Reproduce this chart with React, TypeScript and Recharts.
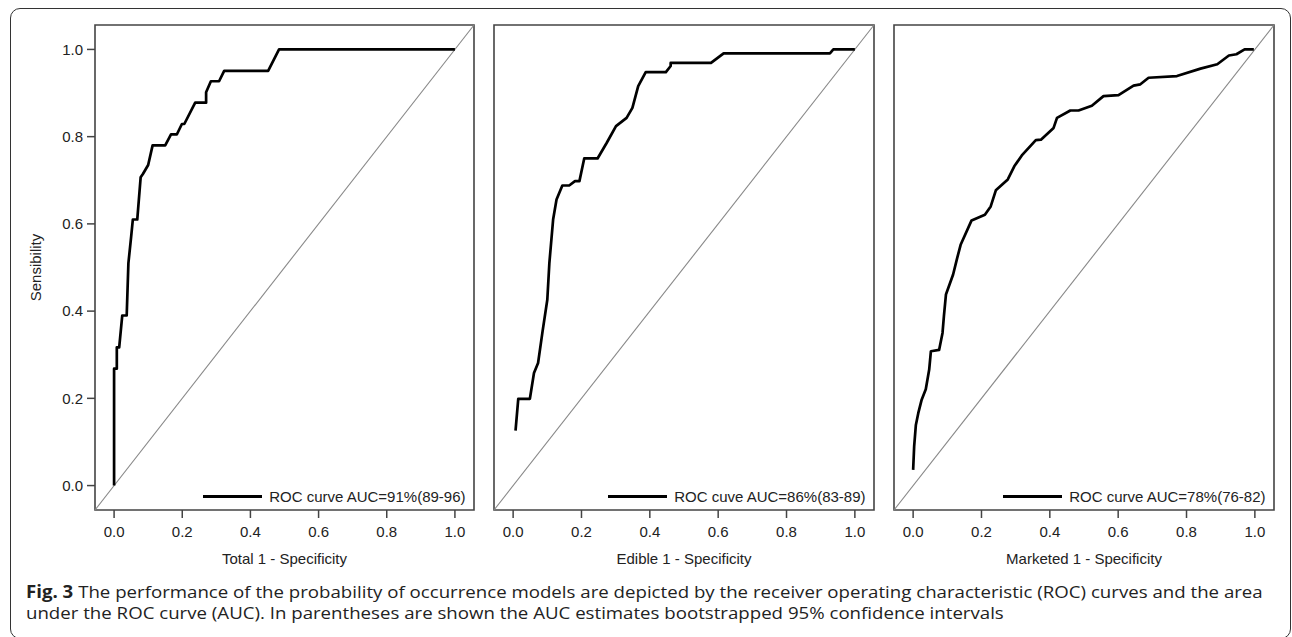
import React from "react";
import { LineChart, Line, XAxis, YAxis, ReferenceLine, ReferenceArea, Legend, Label } from "recharts";

// ---- data ----
const xTicks = [0, 0.2, 0.4, 0.6, 0.8, 1.0];
const yTicks = [0, 0.2, 0.4, 0.6, 0.8, 1.0];

const totalFpr = [0, 0, 0.008, 0.008, 0.015, 0.024, 0.037, 0.042, 0.05, 0.055, 0.068, 0.078, 0.085, 0.1, 0.113, 0.15, 0.167, 0.184, 0.199, 0.206, 0.238, 0.27, 0.27, 0.284, 0.308, 0.323, 0.452, 0.484, 1.0];
const totalTpr = [0, 0.268, 0.268, 0.317, 0.317, 0.39, 0.39, 0.51, 0.57, 0.61, 0.61, 0.707, 0.715, 0.735, 0.78, 0.78, 0.805, 0.805, 0.829, 0.829, 0.878, 0.878, 0.902, 0.927, 0.927, 0.951, 0.951, 1.0, 1.0];

const edibleFpr = [0.007, 0.015, 0.049, 0.061, 0.073, 0.086, 0.1, 0.106, 0.117, 0.127, 0.144, 0.164, 0.181, 0.194, 0.208, 0.247, 0.274, 0.301, 0.332, 0.349, 0.366, 0.388, 0.447, 0.461, 0.461, 0.579, 0.616, 0.927, 0.937, 1.0];
const edibleTpr = [0.126, 0.199, 0.199, 0.258, 0.281, 0.353, 0.426, 0.51, 0.61, 0.656, 0.688, 0.688, 0.698, 0.698, 0.75, 0.75, 0.786, 0.824, 0.843, 0.866, 0.916, 0.948, 0.948, 0.962, 0.969, 0.969, 0.991, 0.991, 1.0, 1.0];

const marketedFpr = [0, 0.003, 0.008, 0.015, 0.025, 0.037, 0.047, 0.052, 0.076, 0.086, 0.09, 0.096, 0.117, 0.129, 0.139, 0.171, 0.21, 0.227, 0.242, 0.277, 0.296, 0.318, 0.359, 0.374, 0.411, 0.421, 0.46, 0.484, 0.523, 0.557, 0.601, 0.645, 0.665, 0.689, 0.772, 0.841, 0.89, 0.924, 0.946, 0.97, 0.997];
const marketedTpr = [0.036, 0.09, 0.139, 0.166, 0.197, 0.221, 0.266, 0.308, 0.311, 0.35, 0.388, 0.438, 0.484, 0.522, 0.552, 0.608, 0.621, 0.64, 0.677, 0.702, 0.732, 0.757, 0.792, 0.793, 0.82, 0.843, 0.86, 0.86, 0.871, 0.893, 0.895, 0.917, 0.92, 0.935, 0.939, 0.956, 0.966, 0.986, 0.989, 1.0, 1.0];

const panelTitles = ["Total 1 - Specificity", "Edible 1 - Specificity", "Marketed 1 - Specificity"];
const legendLabels = ["ROC curve AUC=91%(89-96)", "ROC cuve AUC=86%(83-89)", "ROC curve AUC=78%(76-82)"];
const yTitle = "Sensibility";
const captionBold = "Fig. 3";
const captionLine1 = " The performance of the probability of occurrence models are depicted by the receiver operating characteristic (ROC) curves and the area";
const captionLine2 = "under the ROC curve (AUC). In parentheses are shown the AUC estimates bootstrapped 95% confidence intervals";

const DOMAIN: [number, number] = [-0.056, 1.056];

const toPoints = (xs: number[], ys: number[]) => xs.map((x, i) => ({ x, y: ys[i] }));

const FONT = "'Liberation Sans', Arial, Helvetica, sans-serif";
const TEXT = "#222";
const FRAME = "#444";

type PanelProps = {
  data: { x: number; y: number }[];
  title: string;
  legend: string;
  showY: boolean;
  left: number;
  width: number;
  margin: { top: number; right: number; bottom: number; left: number };
};

const LegendContent = (props: any) => {
  const label = props.payload && props.payload[0] ? props.payload[0].value : "";
  return (
    <div style={{ display: "flex", alignItems: "center", fontFamily: FONT, fontSize: 15, color: TEXT, whiteSpace: "nowrap" }}>
      <div style={{ width: 59, height: 3, background: "#000", marginRight: 7 }} />
      <span>{label}</span>
    </div>
  );
};

const Panel = ({ data, title, legend, showY, left, width, margin }: PanelProps) => {
  const height = 580;
  return (
    <div style={{ position: "absolute", left, top: 0 }}>
      <LineChart width={width} height={height} data={data} margin={margin} style={{ fontFamily: FONT }}>
        <XAxis
          type="number"
          dataKey="x"
          domain={DOMAIN}
          ticks={xTicks}
          allowDataOverflow
          tickFormatter={(v: number) => v.toFixed(1)}
          height={30}
          tickSize={8}
          tickMargin={8}
          axisLine={false}
          tickLine={{ stroke: FRAME, strokeWidth: 1.5 }}
          tick={{ fill: TEXT, fontSize: 15 }}
        >
          <Label
            content={(p: any) => {
              const vb = p.viewBox || {};
              return (
                <text x={vb.x + vb.width / 2} y={vb.y + 53.5} textAnchor="middle" fill={TEXT} fontSize={15} fontFamily={FONT}>
                  {title}
                </text>
              );
            }}
          />
        </XAxis>
        <YAxis
          type="number"
          dataKey="y"
          domain={DOMAIN}
          ticks={yTicks}
          allowDataOverflow
          hide={!showY}
          width={60}
          tickFormatter={(v: number) => v.toFixed(1)}
          tickSize={8}
          tickMargin={4}
          axisLine={false}
          tickLine={{ stroke: FRAME, strokeWidth: 1.5 }}
          tick={{ fill: TEXT, fontSize: 15 }}
        >
          {showY && (
            <Label
              content={(p: any) => {
                const vb = p.viewBox || {};
                const cx = vb.x;
                const cy = vb.y + vb.height / 2;
                return (
                  <text x={cx} y={cy} transform={`rotate(-90, ${cx}, ${cy})`} textAnchor="middle" dominantBaseline="central" fill={TEXT} fontSize={15} fontFamily={FONT}>
                    {yTitle}
                  </text>
                );
              }}
            />
          )}
        </YAxis>
        <ReferenceArea x1={DOMAIN[0]} x2={DOMAIN[1]} y1={DOMAIN[0]} y2={DOMAIN[1]} fill="none" fillOpacity={0} stroke={FRAME} strokeWidth={1.6} ifOverflow="visible" />
        <ReferenceLine
          segment={[{ x: DOMAIN[0], y: DOMAIN[0] }, { x: DOMAIN[1], y: DOMAIN[1] }]}
          stroke="#888"
          strokeWidth={1.1}
          ifOverflow="visible"
        />
        <Line
          type="linear"
          dataKey="y"
          name={legend}
          stroke="#000"
          strokeWidth={2.7}
          dot={false}
          activeDot={false}
          isAnimationActive={false}
          strokeLinejoin="round"
        />
        <Legend
          layout="vertical"
          align="center"
          verticalAlign="middle"
          content={LegendContent}
          wrapperStyle={{ right: margin.right + 8.5, bottom: height - 496 - 9, left: "auto", top: "auto", width: "auto" }}
        />
      </LineChart>
    </div>
  );
};

export default function App() {
  const totalData = toPoints(totalFpr, totalTpr);
  const edibleData = toPoints(edibleFpr, edibleTpr);
  const marketedData = toPoints(marketedFpr, marketedTpr);
  return (
    <div style={{ position: "absolute", left: 0, top: 0, width: 1292, height: 637, overflow: "hidden", background: "#fff" }}>
      <div
        style={{
          position: "absolute",
          left: 9.5,
          top: 7.8,
          width: 1281,
          height: 631,
          border: "1.5px solid #333",
          borderRadius: 10,
          boxSizing: "border-box",
        }}
      />
      <Panel data={totalData} title={panelTitles[0]} legend={legendLabels[0]} showY left={0} width={480} margin={{ top: 25, right: 6, bottom: 40, left: 35 }} />
      <Panel data={edibleData} title={panelTitles[1]} legend={legendLabels[1]} showY={false} left={484} width={400} margin={{ top: 25, right: 10, bottom: 40, left: 10 }} />
      <Panel data={marketedData} title={panelTitles[2]} legend={legendLabels[2]} showY={false} left={884} width={400} margin={{ top: 25, right: 10, bottom: 40, left: 10 }} />
      <div
        style={{
          position: "absolute",
          left: 26,
          top: 580.6,
          fontFamily: "'Open Sans', sans-serif",
          fontSize: 17,
          lineHeight: "21px",
          color: "#222",
          whiteSpace: "nowrap",
          transform: "scaleX(1.097)",
          transformOrigin: "0 0",
        }}
      >
        <div>
          <b style={{ fontWeight: 700 }}>{captionBold}</b>
          {captionLine1}
        </div>
        <div>{captionLine2}</div>
      </div>
    </div>
  );
}
